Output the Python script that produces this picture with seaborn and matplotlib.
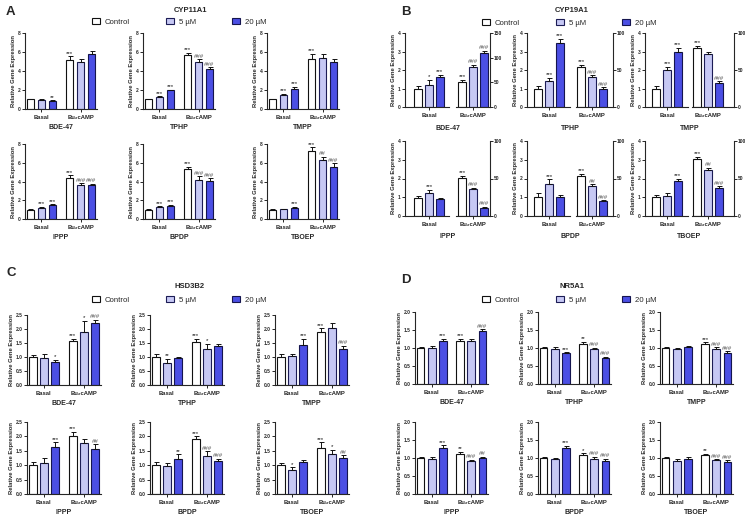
import numpy as np
import pandas as pd
import seaborn as sns
import matplotlib.pyplot as plt
from matplotlib.patches import Patch

compounds = ['BDE-47', 'TPHP', 'TMPP', 'IPPP', 'BPDP', 'TBOEP']
doses = ['Control', '5 µM', '20 µM']
stims = ['Basal', 'Bu₂cAMP']

# CYP11A1 (panel A)
cyp11a1_basal = [[1.0, 0.95, 0.85], [1.0, 1.25, 1.95], [1.0, 1.5, 2.15],
                 [1.0, 1.2, 1.5], [1.0, 1.3, 1.4], [1.0, 1.05, 1.2]]
cyp11a1_basal_err = [[0.08, 0.07, 0.08], [0.05, 0.07, 0.08], [0.05, 0.1, 0.2],
                     [0.05, 0.07, 0.08], [0.05, 0.07, 0.1], [0.05, 0.07, 0.07]]
cyp11a1_bu = [[5.2, 4.9, 5.75], [5.65, 4.95, 4.2], [5.3, 5.35, 4.95],
              [4.35, 3.65, 3.6], [5.35, 4.15, 4.1], [7.25, 6.25, 5.6]]
cyp11a1_bu_err = [[0.35, 0.35, 0.35], [0.25, 0.3, 0.2], [0.5, 0.45, 0.3],
                  [0.3, 0.15, 0.15], [0.25, 0.4, 0.25], [0.4, 0.4, 0.35]]
cyp11a1_basal_sig = [['', '', '**'], ['', '***', '***'], ['', '***', '***'],
                     ['', '***', '***'], ['', '***', '***'], ['', '', '***']]
cyp11a1_bu_sig = [['***', '', ''], ['***', '###', '###'], ['***', '', ''],
                  ['***', '###', '###'], ['***', '###', '###'], ['***', '##', '###']]

# CYP19A1 (panel B) - Bu2cAMP values read on the right axis
cyp19a1_basal = [[1.0, 1.2, 1.6], [1.0, 1.4, 3.45], [1.0, 2.0, 2.95],
                 [0.98, 1.25, 0.9], [1.0, 1.7, 1.0], [1.0, 1.08, 1.85]]
cyp19a1_basal_err = [[0.15, 0.28, 0.15], [0.12, 0.18, 0.25], [0.15, 0.18, 0.25],
                     [0.1, 0.15, 0.05], [0.22, 0.25, 0.12], [0.12, 0.15, 0.15]]
cyp19a1_bu = [[51, 81, 110], [54, 40, 25], [80, 72, 33],
              [51, 36, 11], [54, 40, 20], [76, 62, 37]]
cyp19a1_bu_err = [[4, 5, 4], [3, 3, 1.5], [3, 2.5, 2],
                  [3, 1.5, 1.5], [2, 2.5, 1], [3, 2.5, 2.5]]
cyp19a1_right_max = [150, 100, 100, 100, 100, 100]
cyp19a1_basal_sig = [['', '*', '***'], ['', '***', '***'], ['', '***', '***'],
                     ['', '***', ''], ['', '***', ''], ['', '', '***']]
cyp19a1_bu_sig = [['***', '###', '###'], ['***', '###', '###'], ['***', '', '###'],
                  ['***', '###', '###'], ['***', '##', '###'], ['***', '##', '###']]

# HSD3B2 (panel C)
hsd3b2_basal = [[1.0, 0.95, 0.83], [1.0, 0.8, 0.97], [1.0, 1.02, 1.42],
                [1.0, 1.07, 1.62], [1.0, 0.98, 1.23], [1.0, 0.85, 1.12]]
hsd3b2_basal_err = [[0.06, 0.14, 0.06], [0.1, 0.13, 0.04], [0.1, 0.07, 0.22],
                    [0.11, 0.18, 0.17], [0.1, 0.09, 0.15], [0.08, 0.08, 0.07]]
hsd3b2_bu = [[1.57, 1.9, 2.2], [1.52, 1.28, 1.4], [1.9, 2.03, 1.28],
             [2.0, 1.78, 1.57], [1.9, 1.33, 1.16], [1.6, 1.38, 1.26]]
hsd3b2_bu_err = [[0.07, 0.4, 0.13], [0.12, 0.2, 0.07], [0.12, 0.17, 0.12],
                 [0.15, 0.12, 0.16], [0.1, 0.15, 0.07], [0.2, 0.15, 0.08]]
hsd3b2_basal_sig = [['', '', '*'], ['', '**', ''], ['', '', '***'],
                    ['', '', '***'], ['', '', '**'], ['', '*', '']]
hsd3b2_bu_sig = [['***', '*', '###'], ['***', '*', ''], ['***', '', '###'],
                 ['***', '', '##'], ['***', '###', '###'], ['***', '*', '##']]

# NR5A1 (panel D)
nr5a1_basal = [[1.0, 1.0, 1.2], [1.0, 0.97, 0.85], [1.0, 0.97, 1.03],
               [1.0, 0.96, 1.29], [1.0, 0.96, 1.28], [1.0, 0.93, 0.98]]
nr5a1_basal_err = [[0.02, 0.05, 0.05], [0.03, 0.05, 0.03], [0.04, 0.02, 0.03],
                   [0.04, 0.06, 0.06], [0.02, 0.03, 0.06], [0.03, 0.03, 0.05]]
nr5a1_bu = [[1.2, 1.2, 1.46], [1.1, 0.97, 0.73], [1.1, 0.98, 0.85],
            [1.1, 0.93, 1.0], [1.07, 0.96, 0.93], [1.08, 0.95, 0.9]]
nr5a1_bu_err = [[0.06, 0.05, 0.06], [0.08, 0.03, 0.03], [0.06, 0.04, 0.06],
                [0.07, 0.02, 0.04], [0.06, 0.08, 0.05], [0.04, 0.02, 0.04]]
nr5a1_basal_sig = [['', '', '***'], ['', '', '***'], ['', '', ''],
                   ['', '', '***'], ['', '', '***'], ['', '', '']]
nr5a1_bu_sig = [['***', '', '###'], ['**', '###', '###'], ['***', '###', '###'],
                ['**', '###', '##'], ['*', '###', '###'], ['**', '###', '###']]

dose_colors = ['#FFFFFF', '#C6C8F4', '#4B4FE4']
edge_colors = ['#111111', '#1C1C55', '#15154F']

sns.set_theme(style='ticks')
plt.rcParams['font.family'] = ['Liberation Sans', 'DejaVu Sans']
plt.rcParams['axes.linewidth'] = 0.8

W, H = 745, 517
fig = plt.figure(figsize=(7.45, 5.17), dpi=100)


def px_axes(x0, y0, x1, y1):
    return fig.add_axes([x0 / W, 1 - y1 / H, (x1 - x0) / W, (y1 - y0) / H])


def long_frame(basal, basal_err, basal_sig, bu, bu_err, bu_sig, i):
    rows = []
    for j, d in enumerate(doses):
        rows.append(dict(stim=stims[0], dose=d, val=basal[i][j], err=basal_err[i][j], sig=basal_sig[i][j]))
    for j, d in enumerate(doses):
        rows.append(dict(stim=stims[1], dose=d, val=bu[i][j], err=bu_err[i][j], sig=bu_sig[i][j]))
    return pd.DataFrame(rows)


def draw_bars(ax, df, order):
    sns.barplot(data=df, x='stim', y='val', hue='dose', order=order, hue_order=doses,
                palette=dose_colors, saturation=1, width=0.84, gap=0.3, errorbar=None,
                legend=False, linewidth=0.8, ax=ax)
    bar_conts = list(ax.containers)
    for k, cont in enumerate(bar_conts):
        bars = [b for b in cont.patches if b is not None]
        for bar, stim in zip(bars, order):
            bar.set_edgecolor(edge_colors[k])
            row = df[(df.stim == stim) & (df.dose == doses[k])].iloc[0]
            xc = bar.get_x() + bar.get_width() / 2
            top = bar.get_height()
            ax.errorbar(xc, top, yerr=[[0], [row.err]], fmt='none', ecolor='#111111',
                        elinewidth=0.7, capsize=1.8, capthick=0.7)
            if row.sig:
                color = '#111111' if row.sig.startswith('*') else '#555555'
                ax.annotate(row.sig, (xc, top + row.err), xytext=(0, 0.4),
                            textcoords='offset points', ha='center', va='bottom',
                            fontsize=4.4, color=color, annotation_clip=False)


def style_axes(ax, ymax, step, fmt, side='left'):
    ax.set_ylim(0, ymax)
    ticks = np.arange(0, ymax + step / 2, step)
    ax.set_yticks(ticks)
    ax.set_yticklabels([fmt % t for t in ticks], fontsize=3.5, fontweight='bold')
    ax.tick_params(axis='y', length=2, width=0.7, pad=1)
    ax.tick_params(axis='x', length=2, width=0.7, pad=2.2)
    ax.spines['top'].set_visible(False)
    if side == 'left':
        ax.spines['right'].set_visible(False)
    else:
        ax.spines['left'].set_visible(False)
        ax.yaxis.tick_right()
    ax.set_xlabel('')
    ax.set_ylabel('')


def single_panel(data, cols, rows, width, ymax, step, fmt):
    basal, basal_err, basal_sig, bu, bu_err, bu_sig = data
    for i, name in enumerate(compounds):
        x0 = cols[i % 3]
        y0, y1 = rows[i // 3]
        ax = px_axes(x0, y0, x0 + width, y1)
        df = long_frame(basal, basal_err, basal_sig, bu, bu_err, bu_sig, i)
        draw_bars(ax, df, stims)
        style_axes(ax, ymax, step, fmt)
        ax.set_xlim(-0.42, 1.42)
        ax.set_xticks([0, 1])
        ax.set_xticklabels(stims, fontsize=4.2, fontweight='bold')
        ax.set_ylabel('Relative Gene Expression', fontsize=4.2, fontweight='bold', labelpad=1.5)
        ax.set_xlabel(name, fontsize=5.0, fontweight='bold', labelpad=3)


def panel_header(letter, lx, ly, title, tx, ty, legx, legy):
    fig.text(lx / W, 1 - ly / H, letter, fontsize=9.5, fontweight='bold', va='center')
    fig.text(tx / W, 1 - ty / H, title, fontsize=5.5, fontweight='bold', ha='center', va='center')
    handles = [Patch(facecolor=c, edgecolor=e, linewidth=0.8) for c, e in zip(dose_colors, edge_colors)]
    fig.legend(handles, doses, loc='center left', bbox_to_anchor=(legx / W, 1 - legy / H),
               ncol=3, frameon=False, fontsize=5.6, handlelength=1.05, handleheight=0.72,
               handletextpad=0.55, columnspacing=4.7, borderpad=0, borderaxespad=0)


# Panel A
panel_header('A', 6, 12, 'CYP11A1', 190, 10, 92, 22)
single_panel([cyp11a1_basal, cyp11a1_basal_err, cyp11a1_basal_sig,
              cyp11a1_bu, cyp11a1_bu_err, cyp11a1_bu_sig],
             [25, 143, 267], [(33, 109), (144, 219)], 72, 8, 2, '%d')

# Panel C
panel_header('C', 6, 273, 'HSD3B2', 190, 287, 92, 300)
single_panel([hsd3b2_basal, hsd3b2_basal_err, hsd3b2_basal_sig,
              hsd3b2_bu, hsd3b2_bu_err, hsd3b2_bu_sig],
             [27, 150, 275], [(315, 385), (422, 494)], 74, 2.5, 0.5, '%.1f')

# Panel D
panel_header('D', 401, 280, 'NR5A1', 572, 286, 482, 300)
single_panel([nr5a1_basal, nr5a1_basal_err, nr5a1_basal_sig,
              nr5a1_bu, nr5a1_bu_err, nr5a1_bu_sig],
             [415, 538, 660], [(312, 384), (422, 494)], 73, 2.0, 0.5, '%.1f')

# Panel B: split axes, Basal on the left scale, Bu2cAMP on the right scale
panel_header('B', 401, 12, 'CYP19A1', 572, 10, 482, 23)
b_cols = [(405, 429, 449, 456, 473, 490), (527, 549, 570, 576, 592, 613),
          (645, 667, 688, 692, 708, 734)]
b_rows = [(33, 107), (141, 216)]
unit = 39.0
for i, name in enumerate(compounds):
    l, lc, le, rs, rc, r = b_cols[i % 3]
    y0, y1 = b_rows[i // 3]
    df = long_frame(cyp19a1_basal, cyp19a1_basal_err, cyp19a1_basal_sig,
                    cyp19a1_bu, cyp19a1_bu_err, cyp19a1_bu_sig, i)

    axl = px_axes(l, y0, le, y1)
    draw_bars(axl, df[df.stim == stims[0]], [stims[0]])
    style_axes(axl, 4, 1, '%d')
    axl.set_xlim(-(lc - l) / unit, (le - lc) / unit)
    axl.set_xticks([0])
    axl.set_xticklabels([stims[0]], fontsize=4.2, fontweight='bold')
    axl.set_ylabel('Relative Gene Expression', fontsize=4.2, fontweight='bold', labelpad=1.5)

    axr = px_axes(rs, y0, r, y1)
    draw_bars(axr, df[df.stim == stims[1]], [stims[1]])
    style_axes(axr, cyp19a1_right_max[i], 50, '%d', side='right')
    axr.set_xlim(-(rc - rs) / unit, (r - rc) / unit)
    axr.set_xticks([0])
    axr.set_xticklabels([stims[1]], fontsize=4.2, fontweight='bold')

    fig.text((l + r) / 2 / W, 1 - (y1 + 21) / H, name, fontsize=5.0, fontweight='bold',
             ha='center', va='center')

fig.savefig('out.png', dpi=100)
